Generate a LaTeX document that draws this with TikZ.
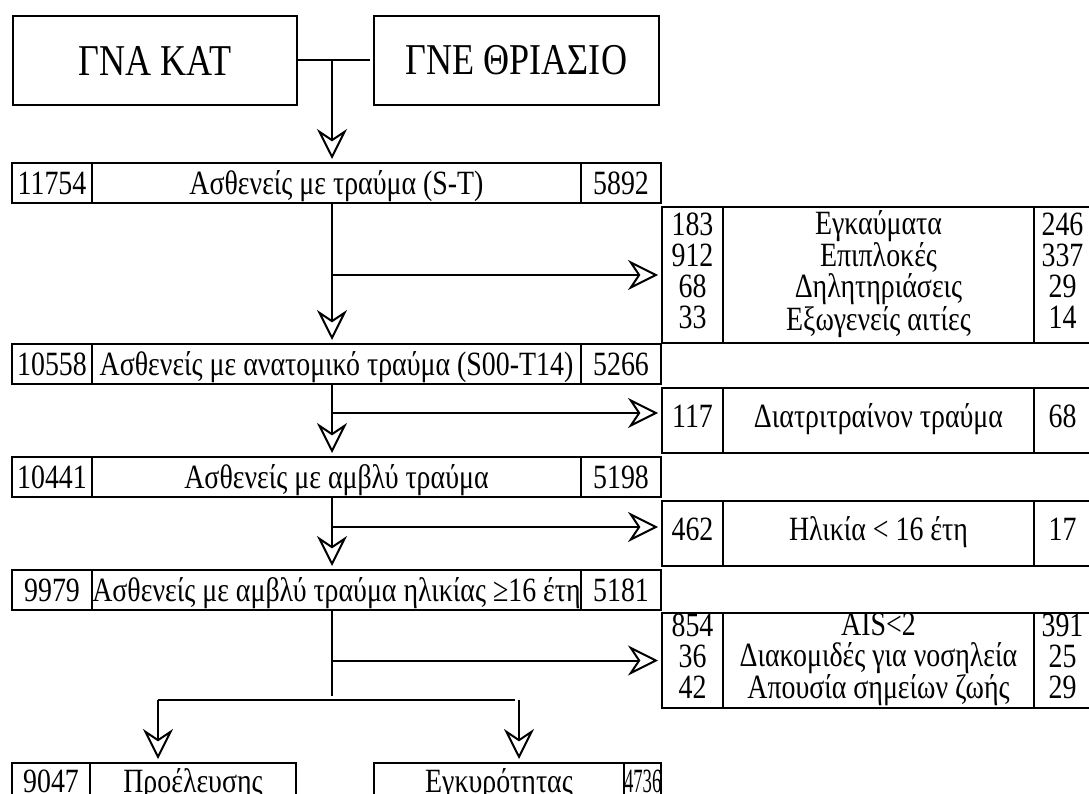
\documentclass[tikz,border=0pt]{standalone}
\usepackage{fontspec}
\setmainfont[FakeStretch=0.82]{Liberation Serif}
\newfontfamily\narrowDigits[FakeStretch=0.55]{Liberation Serif}
\usetikzlibrary{arrows.meta,positioning}
\tikzset{%
  >={Stealth[open,length=30pt,width=30pt,inset=10pt]},
  % styles of the boxes
  base/.style = {rectangle, draw=black, line width=2pt, inner sep=0pt,
                 outer sep=0pt, anchor=north west, align=center},
  hospitalBox/.style = {base, minimum width=285pt, minimum height=89pt,
                        font=\fontsize{44}{48}\selectfont},
  rowCell/.style = {base, minimum height=40pt, text height=23pt, text depth=0pt,
                    font=\fontsize{34}{31}\selectfont},
  lastCell/.style = {rowCell, text depth=5pt},
  groupCell/.style = {base, font=\fontsize{34}{31}\selectfont,
                      execute at begin node=\strut, execute at end node=\strut},
  flow/.style = {line width=2pt, shorten >=4pt},
}
\begin{document}
\begin{tikzpicture}[x=1pt, y=-1pt]
  \useasboundingbox (0,0) rectangle (1089,794);
  % the two hospitals
  \node (gnaKat)      [hospitalBox, minimum width=284pt] at (13,16) {ΓΝΑ ΚΑΤ};
  \node (gneThriasio) [hospitalBox] at (374,16) {ΓΝΕ ΘΡΙΑΣΙΟ};

  % main column, one row of three cells per step
  \node (r1l) [rowCell, minimum width=80pt]  at (12,163) {11754};
  \node (r1m) [rowCell, minimum width=489pt] at (r1l.north east) {Ασθενείς με τραύμα (S-T)};
  \node (r1r) [rowCell, minimum width=80pt]  at (r1m.north east) {5892};

  \node (r2l) [rowCell, minimum width=80pt]  at (12,344) {10558};
  \node (r2m) [rowCell, minimum width=489pt] at (r2l.north east) {Ασθενείς με ανατομικό τραύμα (S00-T14)};
  \node (r2r) [rowCell, minimum width=80pt]  at (r2m.north east) {5266};

  \node (r3l) [rowCell, minimum width=80pt]  at (12,457) {10441};
  \node (r3m) [rowCell, minimum width=489pt] at (r3l.north east) {Ασθενείς με αμβλύ τραύμα};
  \node (r3r) [rowCell, minimum width=80pt]  at (r3m.north east) {5198};

  \node (r4l) [rowCell, minimum width=80pt]  at (12,570) {9979};
  \node (r4m) [rowCell, minimum width=489pt] at (r4l.north east) {Ασθενείς με αμβλύ τραύμα ηλικίας ≥16 έτη};
  \node (r4r) [rowCell, minimum width=80pt]  at (r4m.north east) {5181};

  % excluded patients, right column
  \node (g1l) [groupCell, minimum width=61pt, minimum height=136pt] at (662,207) {183\\912\\68\\33};
  \node (g1m) [groupCell, minimum width=311pt, minimum height=136pt] at (g1l.north east)
              {Εγκαύματα\\Επιπλοκές\\Δηλητηριάσεις\\Εξωγενείς αιτίες};
  \node (g1r) [groupCell, minimum width=57pt, minimum height=136pt] at (g1m.north east) {246\\337\\29\\14};

  \node (g2l) [groupCell, minimum width=61pt, minimum height=65pt] at (662,388) {117};
  \node (g2m) [groupCell, minimum width=311pt, minimum height=65pt] at (g2l.north east) {Διατριτραίνον τραύμα};
  \node (g2r) [groupCell, minimum width=57pt, minimum height=65pt] at (g2m.north east) {68};

  \node (g3l) [groupCell, minimum width=61pt, minimum height=65pt] at (662,501) {462};
  \node (g3m) [groupCell, minimum width=311pt, minimum height=65pt] at (g3l.north east) {Ηλικία < 16 έτη};
  \node (g3r) [groupCell, minimum width=57pt, minimum height=65pt] at (g3m.north east) {17};

  \node (g4l) [groupCell, minimum width=61pt, minimum height=95pt] at (662,613) {854\\36\\42};
  \node (g4m) [groupCell, minimum width=311pt, minimum height=95pt] at (g4l.north east)
              {AIS<2\\Διακομιδές για νοσηλεία\\Απουσία σημείων ζωής};
  \node (g4r) [groupCell, minimum width=57pt, minimum height=95pt] at (g4m.north east) {391\\25\\29};

  % the two final groups
  \node (b1l) [lastCell, minimum width=78pt]  at (12,763) {9047};
  \node (b1m) [lastCell, minimum width=206pt] at (b1l.north east) {Προέλευσης};
  \node (b2m) [lastCell, minimum width=250pt] at (374,763) {Εγκυρότητας};
  \node (b2r) [lastCell, minimum width=37pt]  at (b2m.north east) {\narrowDigits 4736};

  % connectors
  \coordinate (axis) at (332,0);
  \coordinate (branchTwo) at (332,413);
  \coordinate (branchThree) at (332,527);
  \coordinate (split) at (332,700);
  \coordinate (leftDrop) at (158,700);
  \coordinate (rightDrop) at (519,700);

  \draw[flow]     (gnaKat.east) -- (gneThriasio.west);
  \draw[flow,->]  (gnaKat.east -| axis) -- (axis |- r1m.north);
  \draw[flow,->]  (axis |- r1m.south) -- (axis |- r2m.north);
  \draw[flow,->]  (axis |- g1l.west) -- (g1l.west);
  \draw[flow,->]  (axis |- r2m.south) -- (axis |- r3m.north);
  \draw[flow,->]  (branchTwo) -- (branchTwo -| g2l.west);
  \draw[flow,->]  (axis |- r3m.south) -- (axis |- r4m.north);
  \draw[flow,->]  (branchThree) -- (branchThree -| g3l.west);
  \draw[flow]     (axis |- r4m.south) -- (split);
  \draw[flow,->]  (axis |- g4l.west) -- (g4l.west);
  \draw[flow]     (leftDrop) -- (rightDrop);
  \draw[flow,->]  (leftDrop) -- (leftDrop |- b1l.north);
  \draw[flow,->]  (rightDrop) -- (rightDrop |- b2m.north);
\end{tikzpicture}
\end{document}
